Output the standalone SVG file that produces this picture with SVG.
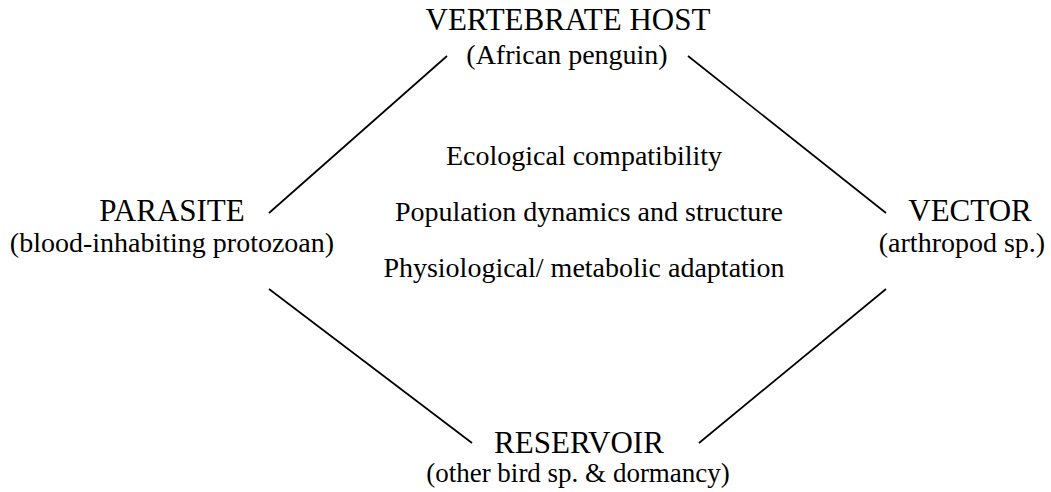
<svg xmlns="http://www.w3.org/2000/svg" width="1051" height="492" viewBox="0 0 1051 492">
<style>
.t{font-size:31px}
.s{font-size:28px}
.r{font-size:27px}
.c{font-size:28px}
.ln{stroke:#000;stroke-width:1.7;fill:none;stroke-linecap:butt}
</style>
<rect width="1051" height="492" fill="#fff"/>
<g font-family="Liberation Serif, Times New Roman, Tinos, DejaVu Serif, serif" fill="#000" text-anchor="middle">
<g id="host">
<text class="t" x="568" y="30">VERTEBRATE HOST</text>
<text class="s" x="567" y="64">(African penguin)</text>
</g>
<g id="parasite">
<text class="t" x="172" y="221">PARASITE</text>
<text class="s" x="172" y="252">(blood-inhabiting protozoan)</text>
</g>
<g id="vector">
<text class="t" x="970" y="221">VECTOR</text>
<text class="s" x="962" y="252">(arthropod sp.)</text>
</g>
<g id="reservoir">
<text class="t" x="579" y="453">RESERVOIR</text>
<text class="r" x="578" y="482">(other bird sp. &amp; dormancy)</text>
</g>
<g id="factors">
<text class="c" x="584" y="165">Ecological compatibility</text>
<text class="c" x="589" y="221">Population dynamics and structure</text>
<text class="c" x="584" y="277">Physiological/ metabolic adaptation</text>
</g>
</g>
<g id="connectors">
<line class="ln" x1="269" y1="213" x2="447" y2="56"/>
<line class="ln" x1="688" y1="56" x2="886" y2="213"/>
<line class="ln" x1="269" y1="289" x2="472" y2="443"/>
<line class="ln" x1="699" y1="443" x2="886" y2="289"/>
</g>
</svg>
